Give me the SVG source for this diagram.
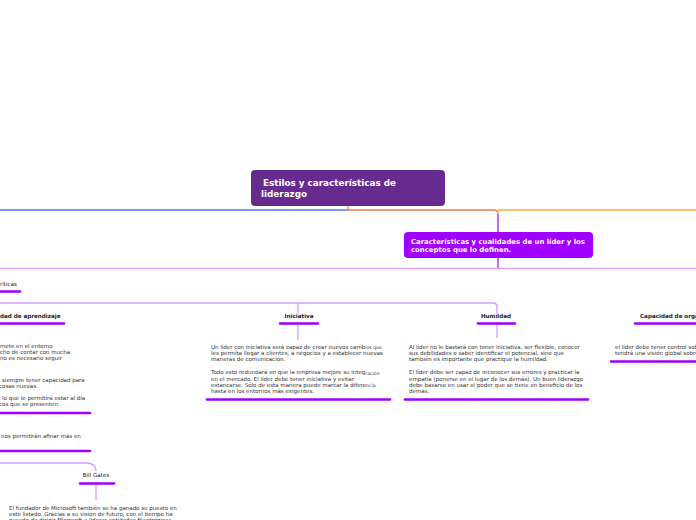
<svg xmlns="http://www.w3.org/2000/svg" width="696" height="520" viewBox="0 0 696 520">
<style>
.body{font-family:"DejaVu Sans",Verdana,sans-serif;font-size:5.5px;fill:#333}
.lbl{font-family:"DejaVu Sans",Verdana,sans-serif;font-size:5.6px;font-weight:bold;fill:#222}
.lbn{font-family:"DejaVu Sans",Verdana,sans-serif;font-size:5.6px;font-weight:normal;fill:#222}
.ul{stroke:#a000ff;stroke-width:2.6;stroke-linecap:round;fill:none}
.lc{stroke:#d49bff;stroke-width:1.3;fill:none}
.sm{font-size:4.6px}
</style>
<rect width="696" height="520" fill="#fff"/>
<g id="connectors">
<path d="M0 210 H348" stroke="#4a7cf0" stroke-width="1.3" fill="none"/>
<path d="M348 206 V210 H494 Q498 210 498 214" stroke="#f07b50" stroke-width="1.3" fill="none"/>
<path d="M498 210 H696" stroke="#f7a93f" stroke-width="1.3" fill="none"/>
<path d="M498 214 V232" stroke="#a000ff" stroke-width="1.2" fill="none"/>
<path d="M498 258 V268" stroke="#a000ff" stroke-width="1.2" fill="none"/>
<path d="M0 268.5 H696" stroke="#d8a4ff" stroke-width="1.6" fill="none"/>
<path class="lc" d="M0 303 H493 Q497 303 497 307 V313"/>
<path class="lc" d="M298 303 V313"/>
<path class="lc" d="M298 324 V340"/>
<path class="lc" d="M497 324 V338"/>
<path class="lc" d="M0 463 H86 Q96 463 96 471"/>
<path class="lc" d="M96 484 V500"/>
</g>
<g id="main">
<rect x="251" y="170" width="194" height="36" rx="4" fill="#672b90"/>
<text x="263" y="186" font-family="DejaVu Sans,Verdana,sans-serif" font-size="8.8" font-weight="bold" fill="#fff">Estilos y características de</text>
<text x="261" y="197" font-family="DejaVu Sans,Verdana,sans-serif" font-size="8.8" font-weight="bold" fill="#fff">liderazgo</text>
</g>
<g id="sub">
<rect x="404" y="232" width="189" height="26" rx="4" fill="#a000ff"/>
<text x="411" y="243.5" font-family="DejaVu Sans,Verdana,sans-serif" font-size="6.9" font-weight="bold" fill="#fff">Características y cualidades de un líder y los</text>
<text x="411" y="252" font-family="DejaVu Sans,Verdana,sans-serif" font-size="6.9" font-weight="bold" fill="#fff">conceptos que lo definen.</text>
</g>
<g id="caracteristicas">
<text class="lbn" x="0" y="286">ríticas</text>
<path class="ul" d="M0 291.5 H20"/>
</g>
<g id="aprendizaje">
<text class="lbl" x="0" y="317.5">dad de aprendizaje</text>
<path class="ul" d="M0 323.5 H64"/>
<text class="body" x="0" y="348">mete en el entorno</text>
<text class="body" x="0" y="354">cho de contar con mucha</text>
<text class="body" x="0" y="360">no es necesario seguir</text>
<text class="body" x="2" y="381.5">siempre tener capacidad para</text>
<text class="body" x="-1" y="387.5">cosas nuevas.</text>
<text class="body" x="2" y="400">lo que le permitirá estar al día</text>
<text class="body" x="-1" y="406">cos que se presenten.</text>
<path class="ul" d="M0 413 H90"/>
<text class="body" x="1" y="438">nos permitirán afinar más en</text>
<path class="ul" d="M0 451 H90"/>
</g>
<g id="iniciativa">
<text class="lbl" x="299" y="317.5" text-anchor="middle">Iniciativa</text>
<path class="ul" d="M280 323.5 H318"/>
<text class="body" x="211" y="348.5">Un líder con iniciativa será capaz de crear nuevos camb<tspan class="sm" dy="0.8">ios que</tspan></text>
<text class="body" x="211" y="354.5">les permita llegar a clientes, a negocios y a establecer nuevas</text>
<text class="body" x="211" y="360.5">maneras de comunicación.</text>
<text class="body" x="211" y="374">Todo esto redundará en que la empresa mejore su integ<tspan class="sm" dy="0.8">ración</tspan></text>
<text class="body" x="211" y="380.5">en el mercado. El líder debe tener iniciativa y evitar</text>
<text class="body" x="211" y="386.5">estancarse. Sólo de esta manera puede marcar la difere<tspan class="sm" dy="0.8">ncia</tspan></text>
<text class="body" x="211" y="392.5">hasta en los entornos más exigentes.</text>
<path class="ul" d="M207 399.5 H390"/>
</g>
<g id="humildad">
<text class="lbl" x="496" y="317.5" text-anchor="middle">Humildad</text>
<path class="ul" d="M478 323.5 H515"/>
<text class="body" x="409" y="348.5">Al líder no le bastará con tener iniciativa, ser flexible, conocer</text>
<text class="body" x="409" y="354.5">sus debilidades o saber identificar el potencial, sino que</text>
<text class="body" x="409" y="360.5">también es importante que practique la humildad.</text>
<text class="body" x="409" y="374">El líder debe ser capaz de reconocer sus errores y practicar la</text>
<text class="body" x="409" y="380.5">empatía (ponerse en el lugar de los demás). Un buen liderazgo</text>
<text class="body" x="409" y="386.5">debe basarse en usar el poder que se tiene en beneficio de los</text>
<text class="body" x="409" y="392.5">demás.</text>
<path class="ul" d="M405 399.5 H588"/>
</g>
<g id="organizacion">
<text class="lbl" x="640" y="317.5">Capacidad de organización</text>
<path class="ul" d="M635 323.5 H700"/>
<text class="body" x="615" y="349">el líder debe tener control sobre</text>
<text class="body" x="615" y="355">tendrá una visión global sobre</text>
<path class="ul" d="M611 361.5 H700"/>
</g>
<g id="billgates">
<text class="lbn" x="96" y="477" text-anchor="middle">Bill Gates</text>
<path class="ul" d="M80 483.5 H114"/>
<text class="body" x="9" y="509.5">El fundador de Microsoft también se ha ganado su puesto en</text>
<text class="body" x="9" y="515.5">este listado. Gracias a su visión de futuro, con el tiempo ha</text>
<text class="body" x="9" y="521.5">pasado de dirigir Microsoft a liderar entidades filantrópicas</text>
</g>
</svg>
